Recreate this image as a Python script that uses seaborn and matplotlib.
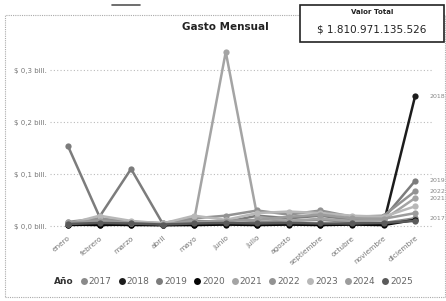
import matplotlib
matplotlib.use("Agg")
import matplotlib.pyplot as plt
import seaborn as sns
import pandas as pd
from matplotlib.lines import Line2D
from matplotlib.patches import Rectangle

months = ["enero", "febrero", "marzo", "abril", "mayo", "junio", "julio",
          "agosto", "septiembre", "octubre", "noviembre", "diciembre"]
years = ["2017", "2018", "2019", "2020", "2021", "2022", "2023", "2024", "2025"]

# values in "bill." units
v2017 = [0.005, 0.010, 0.004, 0.003, 0.006, 0.005, 0.008, 0.010, 0.012, 0.008, 0.006, 0.015]
v2018 = [0.002, 0.003, 0.002, 0.002, 0.003, 0.004, 0.003, 0.004, 0.003, 0.004, 0.005, 0.250]
v2019 = [0.154, 0.018, 0.110, 0.005, 0.010, 0.008, 0.020, 0.015, 0.020, 0.012, 0.015, 0.087]
v2020 = [0.003, 0.002, 0.003, 0.002, 0.002, 0.003, 0.002, 0.003, 0.002, 0.003, 0.002, 0.012]
v2021 = [0.006, 0.012, 0.006, 0.004, 0.012, 0.335, 0.018, 0.010, 0.014, 0.010, 0.012, 0.054]
v2022 = [0.008, 0.015, 0.008, 0.006, 0.015, 0.020, 0.030, 0.022, 0.030, 0.018, 0.020, 0.067]
v2023 = [0.004, 0.020, 0.010, 0.005, 0.020, 0.012, 0.025, 0.028, 0.025, 0.020, 0.018, 0.038]
v2024 = [0.007, 0.010, 0.006, 0.004, 0.008, 0.010, 0.012, 0.018, 0.022, 0.015, 0.014, 0.025]
v2025 = [0.004, 0.006, 0.005, 0.003, 0.005, 0.006, 0.005, 0.006, 0.005, 0.005, 0.006, 0.010]
series = [v2017, v2018, v2019, v2020, v2021, v2022, v2023, v2024, v2025]

total_label = "$ 1.810.971.135.526"
yticks = [0.0, 0.1, 0.2, 0.3]
ytick_labels = ["$ 0,0 bill.", "$ 0,1 bill.", "$ 0,2 bill.", "$ 0,3 bill."]
end_labels = ["2018", "2019", "2022", "2021", "2017"]
end_values = [v2018[-1], v2019[-1], v2022[-1], v2021[-1], v2017[-1]]

colors = ["#8a8a8a", "#1c1c1c", "#7c7c7c", "#050505", "#a4a4a4",
          "#939393", "#b8b8b8", "#9c9c9c", "#5a5a5a"]

rows = []
for y, vals in zip(years, series):
    for m, v in zip(months, vals):
        rows.append({"mes": m, "valor": v, "Año": y})
df = pd.DataFrame(rows)

sns.set_style("white")
fig = plt.figure(figsize=(4.46, 3.01), dpi=100)
ax = fig.add_axes([0.112, 0.229, 0.857, 0.621])

sns.lineplot(data=df, x="mes", y="valor", hue="Año", hue_order=years,
             palette=dict(zip(years, colors)), marker="o", markersize=4.5,
             markeredgewidth=0, linewidth=1.8, sort=False, legend=False, ax=ax)

ax.set_xlim(-0.57, 11.54)
ax.set_ylim(-0.0115, 0.348)
ax.set_yticks(yticks)
ax.set_yticklabels(ytick_labels, fontsize=5, color="#777777")
ax.set_xticks(range(len(months)))
ax.set_xticklabels(months, rotation=40, ha="right", rotation_mode="anchor",
                   fontsize=5.3, color="#777777")
ax.tick_params(axis="both", length=0, pad=2)
ax.set_xlabel("")
ax.set_ylabel("")
ax.grid(axis="y", linestyle=(0, (1, 2)), color="#bbbbbb", linewidth=0.8)
ax.grid(axis="x", visible=False)
for s in ax.spines.values():
    s.set_visible(False)

for lab, val in zip(end_labels, end_values):
    ax.annotate(lab, xy=(11, val), xytext=(10, 0), textcoords="offset points",
                fontsize=4.5, color="#888888", va="center", annotation_clip=False)

# outer dotted frame
fig.patches.append(Rectangle((5 / 446, 4 / 301), 440 / 446, 282 / 301,
                             transform=fig.transFigure, fill=False,
                             edgecolor="#aaaaaa", linewidth=0.8,
                             linestyle=(0, (1, 1))))
# small dash at top
fig.add_artist(Line2D([112 / 446, 140 / 446], [1 - 5 / 301, 1 - 5 / 301],
                      transform=fig.transFigure, color="#555555", linewidth=1.2))

fig.text(0.505, 1 - 27 / 301, "Gasto Mensual", ha="center", va="center",
         fontsize=7.5, fontweight="bold", color="#222222")

# total box
fig.patches.append(Rectangle((300 / 446, 1 - 42 / 301), 144 / 446, 37 / 301,
                             transform=fig.transFigure, facecolor="white",
                             edgecolor="#222222", linewidth=1.2, zorder=5))
fig.text(372 / 446, 1 - 12 / 301, "Valor Total", ha="center", va="center",
         fontsize=5, fontweight="bold", color="#222222", zorder=6)
fig.text(372 / 446, 1 - 29 / 301, total_label, ha="center", va="center",
         fontsize=7.5, color="#222222", zorder=6)

handles = [Line2D([], [], linestyle="none", marker="")]
labels = ["Año"]
for y, c in zip(years, colors):
    handles.append(Line2D([], [], linestyle="none", marker="o", markersize=5,
                          markerfacecolor=c, markeredgewidth=0))
    labels.append(y)
leg = fig.legend(handles, labels, loc="center", bbox_to_anchor=(0.515, 1 - 282 / 301),
                 ncol=len(labels), frameon=False, fontsize=6.5, handlelength=0.6,
                 handletextpad=0.25, columnspacing=0.8, borderpad=0)
for t in leg.get_texts():
    t.set_color("#666666")
leg.get_texts()[0].set_fontweight("bold")
leg.get_texts()[0].set_color("#333333")

fig.savefig("out.png", dpi=100, facecolor="white")
